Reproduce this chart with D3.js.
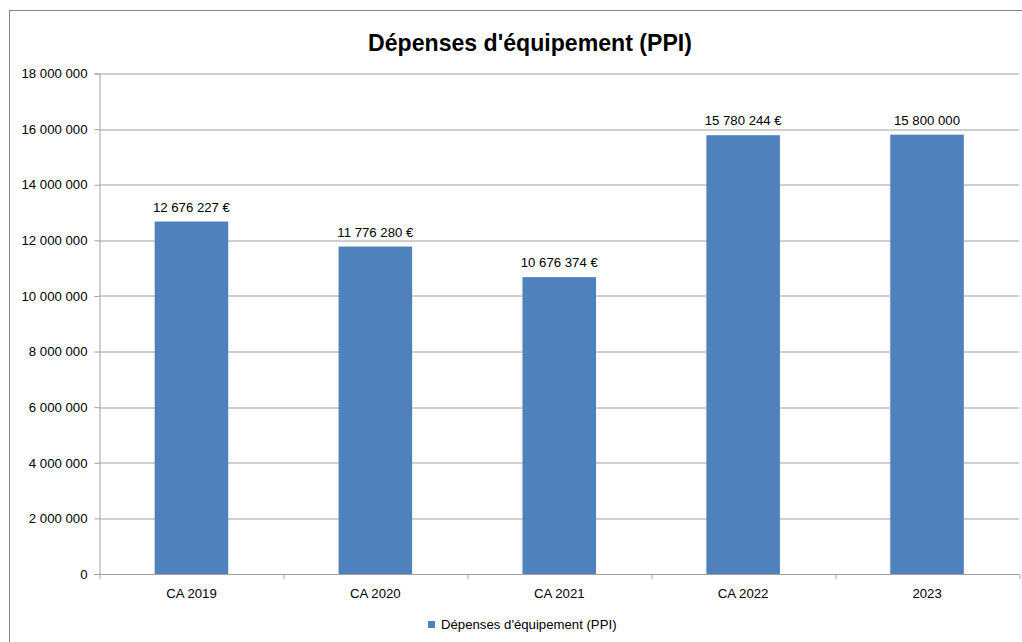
<!DOCTYPE html>
<meta charset="utf-8">
<style>
  body { margin: 0; background: #fff; }
  text { font-family: "Liberation Sans", Arial, sans-serif; fill: #000; }
</style>

<!-- Load d3.js -->
<script src="https://d3js.org/d3.v7.min.js"></script>

<div id="my_dataviz"></div>

<script>

// data
var categories = ["CA 2019", "CA 2020", "CA 2021", "CA 2022", "2023"];
var values = [12676227, 11776280, 10676374, 15780244, 15800000];
var valueLabels = ["12 676 227 €", "11 776 280 €", "10 676 374 €", "15 780 244 €", "15 800 000"];
var yTicks = [0, 2000000, 4000000, 6000000, 8000000, 10000000, 12000000, 14000000, 16000000, 18000000];
var seriesName = "Dépenses d'équipement (PPI)";
var chartTitle = "Dépenses d'équipement (PPI)";

var W = 1022, H = 642;
var margin = {top: 73.5, right: 3, bottom: 68, left: 99.5};
var width = W - margin.left - margin.right,
    height = H - margin.top - margin.bottom;
var fontSize = "13.2px";

var svg = d3.select("#my_dataviz")
  .append("svg")
    .attr("width", W)
    .attr("height", H);

// outer chart border
svg.append("rect")
  .attr("x", 9.5).attr("y", 10.5)
  .attr("width", W + 10).attr("height", H + 10)
  .attr("fill", "none")
  .attr("stroke", "#868686");

// title
svg.append("text")
  .attr("x", 530).attr("y", 51)
  .attr("text-anchor", "middle")
  .style("font-weight", "bold")
  .style("font-size", "24px")
  .attr("textLength", 324)
  .attr("lengthAdjust", "spacingAndGlyphs")
  .text(chartTitle);

var g = svg.append("g")
  .attr("transform", "translate(" + margin.left + "," + margin.top + ")");

var x = d3.scaleBand().domain(categories).range([0, width]).paddingInner(0.6).paddingOuter(0.3);
var y = d3.scaleLinear().domain([0, 18000000]).range([height, 0]);

var fmt = function(d) { return d3.format(",")(d).replace(/,/g, " "); };

// gridlines
g.append("g")
  .selectAll("line")
  .data(yTicks.filter(function(d) { return d > 0; }))
  .enter().append("line")
    .attr("x1", 0).attr("x2", width)
    .attr("y1", function(d) { return Math.round(y(d)) + 0.5; })
    .attr("y2", function(d) { return Math.round(y(d)) + 0.5; })
    .attr("stroke", "#a0a0a0");

// y axis
var yAxis = d3.axisLeft(y).tickValues(yTicks).tickSize(5).tickPadding(7).tickFormat(fmt);
var yg = g.append("g").call(yAxis);
yg.select(".domain").attr("stroke", "#a0a0a0");
yg.selectAll(".tick line").attr("stroke", "#a0a0a0");
yg.selectAll(".tick text").style("font-size", fontSize).attr("fill", "#000");

// bars
g.selectAll(".bar")
  .data(values)
  .enter().append("rect")
    .attr("class", "bar")
    .attr("x", function(d, i) { return x(categories[i]); })
    .attr("width", x.bandwidth())
    .attr("y", function(d) { return y(d); })
    .attr("height", function(d) { return height - y(d); })
    .attr("fill", "#4f81bd");

// value labels
g.selectAll(".vlabel")
  .data(values)
  .enter().append("text")
    .attr("class", "vlabel")
    .attr("x", function(d, i) { return x(categories[i]) + x.bandwidth() / 2; })
    .attr("y", function(d) { return y(d) - 10; })
    .attr("text-anchor", "middle")
    .style("font-size", fontSize)
    .text(function(d, i) { return valueLabels[i]; });

// x axis with ticks at category boundaries
var step = width / categories.length;
var xg = g.append("g").attr("transform", "translate(0," + height + ")");
xg.append("line")
  .attr("x1", 0).attr("x2", width)
  .attr("y1", 0.5).attr("y2", 0.5)
  .attr("stroke", "#a0a0a0");
xg.selectAll(".xtick")
  .data(d3.range(categories.length + 1))
  .enter().append("line")
    .attr("x1", function(d) { return Math.round(d * step) + 0.5; })
    .attr("x2", function(d) { return Math.round(d * step) + 0.5; })
    .attr("y1", 0).attr("y2", 5)
    .attr("stroke", "#a0a0a0");
xg.selectAll(".xlabel")
  .data(categories)
  .enter().append("text")
    .attr("x", function(d) { return x(d) + x.bandwidth() / 2; })
    .attr("y", 24)
    .attr("text-anchor", "middle")
    .style("font-size", fontSize)
    .text(function(d) { return d; });

// legend
var lg = svg.append("g").attr("transform", "translate(428,621)");
lg.append("rect").attr("width", 7).attr("height", 7).attr("fill", "#4f81bd");
lg.append("text").attr("x", 13).attr("y", 8).style("font-size", fontSize).text(seriesName);

</script>
